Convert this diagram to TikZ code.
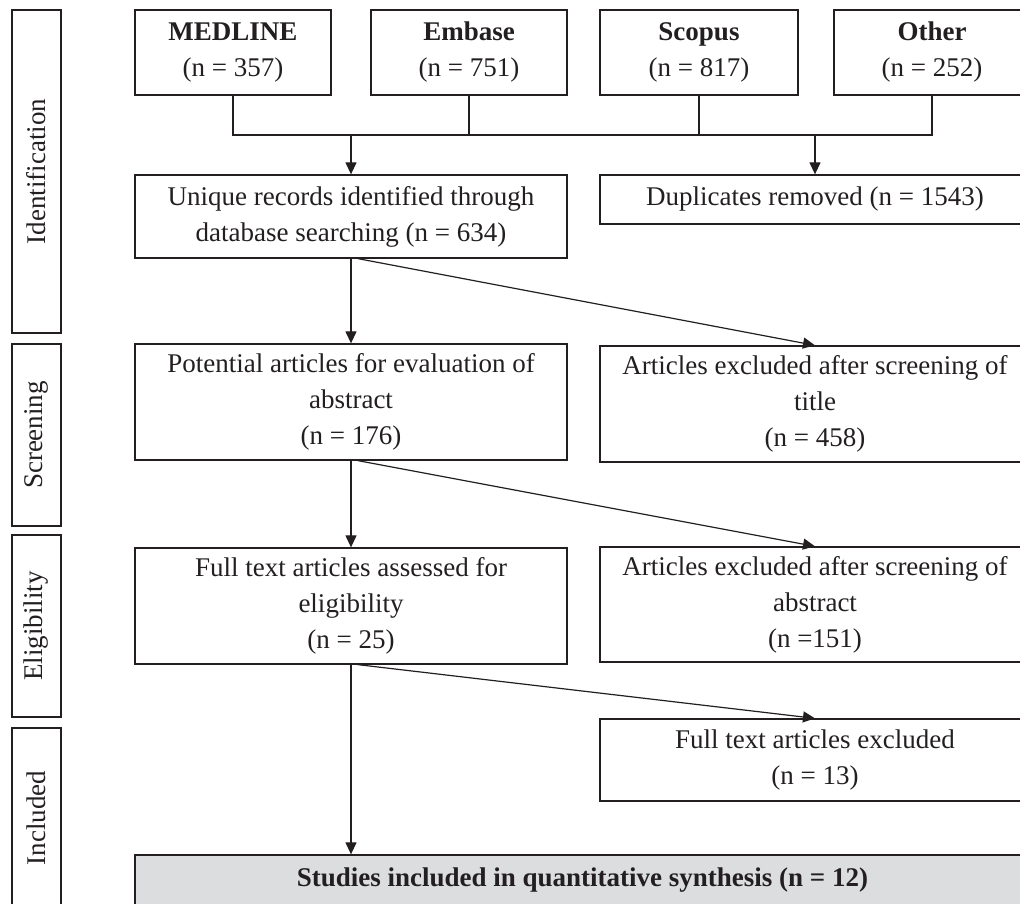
\documentclass[tikz,border=0pt]{standalone}
\usepackage{fontspec}
\setmainfont{Liberation Serif}
\usetikzlibrary{arrows.meta}
\definecolor{ink}{HTML}{231F20}
\definecolor{grayfill}{HTML}{DCDDDF}
\begin{document}
\begin{tikzpicture}[x=1pt,y=-1pt,
  txt/.style={text=ink, font=\fontsize{27}{36}\selectfont},
  box/.style={txt, draw=ink, line width=1.3pt, rectangle, inner sep=0pt, align=center},
  stage/.style={box, minimum width=49pt},
  conn/.style={draw=ink, line width=1.2pt},
  arr/.style={conn, -{Triangle[length=12pt,width=11pt]}}]
\useasboundingbox (0,0) rectangle (1020,904);
\clip (0,0) rectangle (1020,904);
% stage boxes
\node[stage, minimum height=323pt] (sid) at (36.5,171.5) {};
\node[txt, rotate=90] (tid) at (sid.center) {Identification};
\node[stage, minimum height=182pt] (ssc) at (36.5,435) {};
\node[txt, rotate=90] (tsc) at (ssc.center) {Screening};
\node[stage, minimum height=182pt] (sel) at (36.5,626) {};
\node[txt, rotate=90] (tel) at (sel.center) {Eligibility};
\node[stage, minimum height=180pt] (sin) at (36.5,818) {};
\node[txt, rotate=90] (tin) at (sin.center) {Included};
% sources
\node[box, minimum width=196pt, minimum height=85pt] (med) at (233,52.5) {\textbf{MEDLINE}\\(n = 357)};
\node[box, minimum width=196pt, minimum height=85pt] (emb) at (469,52.5) {\textbf{Embase}\\(n = 751)};
\node[box, minimum width=198pt, minimum height=85pt] (sco) at (699,52.5) {\textbf{Scopus}\\(n = 817)};
\node[box, minimum width=196pt, minimum height=85pt] (oth) at (932,52.5) {\textbf{Other}\\(n = 252)};
% main column
\node[box, minimum width=432pt, minimum height=83pt] (uni) at (351,216.5) {Unique records identified through\\database searching (n = 634)};
\node[box, minimum width=432pt, minimum height=116pt] (pot) at (351,402) {Potential articles for evaluation of\\abstract\\(n = 176)};
\node[box, minimum width=432pt, minimum height=116pt] (ful) at (351,606) {Full text articles assessed for\\eligibility\\(n = 25)};
\node[box, fill=grayfill, minimum width=895pt, minimum height=50pt] (stu) at (582.5,880) {\textbf{Studies included in quantitative synthesis (n = 12)}};
% right column
\node[box, minimum width=430pt, minimum height=49pt] (dup) at (815,199.5) {Duplicates removed (n = 1543)};
\node[box, minimum width=430pt, minimum height=116pt] (ext) at (815,404) {Articles excluded after screening of\\title\\(n = 458)};
\node[box, minimum width=430pt, minimum height=115pt] (exa) at (815,604.5) {Articles excluded after screening of\\abstract\\(n =151)};
\node[box, minimum width=430pt, minimum height=82pt] (fex) at (815,760) {Full text articles excluded\\(n = 13)};
% bus
\coordinate (b1) at (233,135);
\coordinate (b2) at (469,135);
\coordinate (b3) at (699,135);
\coordinate (b4) at (932,135);
\coordinate (bu) at (351,135);
\coordinate (bd) at (815,135);
\draw[conn] (med.south) -- (b1) -- (b4) -- (oth.south);
\draw[conn] (emb.south) -- (b2);
\draw[conn] (sco.south) -- (b3);
\draw[arr] (bu) -- (uni.north);
\draw[arr] (bd) -- (dup.north);
% flow
\draw[arr] (uni.south) -- (pot.north);
\draw[arr] ([xshift=7pt]uni.south) -- (ext.north);
\draw[arr] (pot.south) -- (ful.north);
\draw[arr] ([xshift=7pt]pot.south) -- (exa.north);
\draw[arr] (ful.south) -- (ful.south |- stu.north);
\draw[arr] ([xshift=7pt]ful.south) -- (fex.north);
\end{tikzpicture}
\end{document}
